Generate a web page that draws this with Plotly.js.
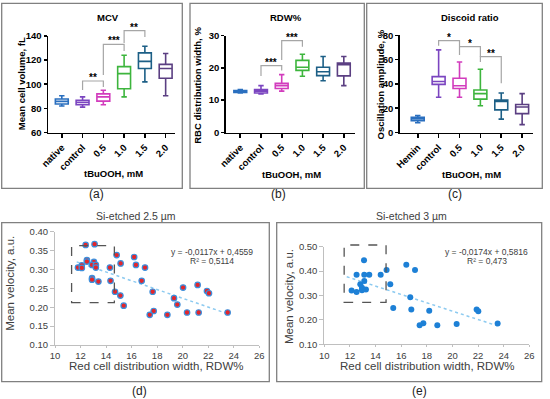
<!DOCTYPE html>
<html><head><meta charset="utf-8">
<script src="https://cdn.plot.ly/plotly-3.0.1.min.js"></script>
<style>html,body{margin:0;padding:0;background:#fff;}#chart{width:550px;height:399px;}</style>
</head><body><div id="chart"></div>
<script>
// ---------------- DATA ----------------
const catsA = ['native','control','0.5','1.0','1.5','2.0'];
const catsB = ['native','control','0.5','1.0','1.5','2.0'];
const catsC = ['Hemin','control','0.5','1.0','1.5','2.0'];
const boxColors = ['#2a6fbf','#7b45c0','#d23cbd','#3db53d','#1c5f86','#5b3f82'];

// (a) MCV, fL
const mcvLow  = [82, 81, 83, 89.5, 102, 90.5];
const mcvQ1   = [83.6, 83, 86, 96.3, 113, 105];
const mcvMed  = [85.8, 85, 89.5, 108.8, 119, 113];
const mcvQ3   = [87.8, 86.7, 92, 114.6, 126, 116.5];
const mcvHigh = [90.5, 89.5, 95, 124, 131.5, 125.5];
// (b) RDW %
const rdwLow  = [12.2, 11.9, 12.8, 17.4, 16, 14.5];
const rdwQ1   = [12.4, 12.2, 13.6, 19.2, 17.6, 17.5];
const rdwMed  = [12.75, 12.8, 14.5, 20.2, 18.8, 21];
const rdwQ3   = [13.0, 13.3, 15.2, 22.3, 20.2, 21.5];
const rdwHigh = [13.3, 14.5, 17.9, 24.2, 23.5, 23.5];
// (c) Discoid ratio, %
const discLow  = [8, 29, 29, 22, 11, 6.5];
const discQ1   = [9.8, 39.6, 36.2, 27.5, 18.6, 15.5];
const discMed  = [11.3, 42, 38.5, 32, 25.5, 21];
const discQ3   = [12.6, 46, 44.6, 35, 26.8, 23];
const discHigh = [14, 68, 58, 52, 32.5, 32];

// significance brackets: from/to category index, top level, left/right leg ends, label
const brA_from = [1, 2, 3], brA_to = [2, 3, 4];
const brA_top = [102.7, 133.1, 144.4], brA_left = [95.2, 107.7, 134.2], brA_right = [97.7, 127.6, 139.2];
const brA_lab = ['**', '***', '**'];
const brB_from = [1, 2], brB_to = [2, 3];
const brB_top = [20.7, 28.4], brB_left = [17.5, 22.4], brB_right = [19.2, 26.5];
const brB_lab = ['***', '***'];
const brC_from = [1, 2, 3], brC_to = [2, 3, 4];
const brC_top = [75.6, 70.6, 62.4], brC_left = [71.4, 70.6, 58], brC_right = [63.8, 62.4, 40.5];
const brC_lab = ['*', '*', '**'];

// (d) Si-etched 2.5 um
const dX = [11.8, 12.1, 12.1, 12.4, 12.5, 12.5, 13.1, 13.05, 12.9, 13.2, 13.2, 12.9, 12.9, 13.4, 14.3, 14.35, 14.7, 14.83, 15.14, 15.12, 15.38, 16.2, 16.34, 16.79, 17.05, 17.65, 17.73, 17.42, 18.8, 19.32, 19.58, 20.03, 20.34, 21.17, 21.25, 21.9, 22.06, 23.52];
const dY = [0.305, 0.311, 0.304, 0.365, 0.325, 0.321, 0.367, 0.32, 0.312, 0.312, 0.305, 0.277, 0.273, 0.268, 0.305, 0.27, 0.241, 0.338, 0.316, 0.231, 0.204, 0.333, 0.312, 0.27, 0.305, 0.241, 0.19, 0.18, 0.18, 0.224, 0.207, 0.252, 0.186, 0.259, 0.186, 0.243, 0.237, 0.186];
const dTrendX = [11.7, 23.5], dTrendY = [0.32, 0.183];
const dBoxX = [11.3, 14.65], dBoxY = [0.212, 0.363];
// (e) Si-etched 3 um
const eX = [12.13, 12.52, 12.52, 12.81, 12.94, 12.94, 13.1, 13.12, 13.12, 13.25, 13.51, 14.4, 14.86, 15.15, 15.38, 16.4, 16.71, 16.79, 17.08, 17.44, 17.73, 18.19, 18.82, 20.33, 21.89, 22.02, 23.53];
const eY = [0.321, 0.314, 0.385, 0.346, 0.332, 0.322, 0.444, 0.385, 0.359, 0.325, 0.385, 0.385, 0.404, 0.346, 0.249, 0.426, 0.293, 0.243, 0.404, 0.178, 0.186, 0.238, 0.178, 0.183, 0.243, 0.235, 0.185];
const eTrendX = [11.75, 23.5], eTrendY = [0.377, 0.176];
const eBoxX = [11.55, 14.82], eBoxY = [0.272, 0.507];

// ---------------- LAYOUT GEOMETRY ----------------
const W = 550, H = 399;
const px = x => x / W, py = y => 1 - y / H;
const P = {
  a: {xd:[48.3,175], yd:[36,132.5], xr:[-0.65,5.45], yr:[60,140], dt:20},
  b: {xd:[226,355], yd:[35.5,132.5], xr:[-0.69,5.54], yr:[0,30], dt:10},
  c: {xd:[400,533], yd:[35.3,132.5], xr:[-0.85,5.52], yr:[0,80], dt:20},
  d: {xd:[55,259.3], yd:[231.7,345], xr:[10,26], yr:[0.10,0.40], dt:0.05},
  e: {xd:[324.3,529.3], yd:[246.7,344.3], xr:[10,26], yr:[0.10,0.50], dt:0.1}
};
function X(p, v){ return px(p.xd[0]) + (v - p.xr[0])/(p.xr[1]-p.xr[0])*(px(p.xd[1])-px(p.xd[0])); }
function Y(p, v){ return py(p.yd[1]) + (v - p.yr[0])/(p.yr[1]-p.yr[0])*(py(p.yd[0])-py(p.yd[1])); }

const FONT = 'Liberation Sans, Arial, sans-serif';
const traces = [];
const shapes = [];
const annotations = [];

function addBoxes(n, cats, lo, q1, med, q3, hi){
  cats.forEach((c, i) => {
    traces.push({type:'box', x:[i], lowerfence:[lo[i]], q1:[q1[i]], median:[med[i]], q3:[q3[i]], upperfence:[hi[i]],
      width:0.62, whiskerwidth:0.42, boxpoints:false, fillcolor:'#ffffff',
      line:{color:boxColors[i], width:1.6}, xaxis:'x'+(n===1?'':n), yaxis:'y'+(n===1?'':n),
      hoverinfo:'skip', showlegend:false});
  });
}
addBoxes(1, catsA, mcvLow, mcvQ1, mcvMed, mcvQ3, mcvHigh);
addBoxes(2, catsB, rdwLow, rdwQ1, rdwMed, rdwQ3, rdwHigh);
addBoxes(3, catsC, discLow, discQ1, discMed, discQ3, discHigh);

function addBrackets(p, fr, to, top, left, right, lab){
  fr.forEach((f, i) => {
    const t = to[i];
    shapes.push({type:'path', xref:'paper', yref:'paper',
      path:`M ${X(p,f)},${Y(p,left[i])} L ${X(p,f)},${Y(p,top[i])} L ${X(p,t)},${Y(p,top[i])} L ${X(p,t)},${Y(p,right[i])}`,
      line:{color:'#a6a6a6', width:1.2}});
    annotations.push({xref:'paper', yref:'paper', x:X(p,(f+t)/2), y:Y(p,top[i]), yanchor:'bottom', xanchor:'center',
      text:lab[i], showarrow:false, yshift:-4, font:{family:FONT, size:10, weight:'bold', color:'#000'}});
  });
}
addBrackets(P.a, brA_from, brA_to, brA_top, brA_left, brA_right, brA_lab);
addBrackets(P.b, brB_from, brB_to, brB_top, brB_left, brB_right, brB_lab);
addBrackets(P.c, brC_from, brC_to, brC_top, brC_left, brC_right, brC_lab);

// scatter panels
traces.push({type:'scatter', mode:'lines', x:dTrendX, y:dTrendY, xaxis:'x4', yaxis:'y4',
  line:{color:'#8ccaf0', width:1.5, dash:'dot'}, hoverinfo:'skip', showlegend:false});
traces.push({type:'scatter', mode:'markers', x:dX, y:dY, xaxis:'x4', yaxis:'y4',
  marker:{color:'#e3262b', size:5.5, line:{color:'#3d8fdc', width:1.2}}, hoverinfo:'skip', showlegend:false});
traces.push({type:'scatter', mode:'lines', x:eTrendX, y:eTrendY, xaxis:'x5', yaxis:'y5',
  line:{color:'#8ccaf0', width:1.5, dash:'dot'}, hoverinfo:'skip', showlegend:false});
traces.push({type:'scatter', mode:'markers', x:eX, y:eY, xaxis:'x5', yaxis:'y5',
  marker:{color:'#1d80d6', size:6}, hoverinfo:'skip', showlegend:false});

// dashed boxes
[[P.d, dBoxX, dBoxY],[P.e, eBoxX, eBoxY]].forEach(([p, bx, by]) => {
  shapes.push({type:'rect', xref:'paper', yref:'paper', x0:X(p,bx[0]), x1:X(p,bx[1]), y0:Y(p,by[0]), y1:Y(p,by[1]),
    line:{color:'#555555', width:1.3, dash:'dash'}});
});

// panel frames
[[1.7,3.3,182.3,188.3],[190,3.3,364.3,188.3],[366.7,3.3,542.3,188.3],[1.7,222.7,269.3,381.7],[276.7,222.7,541.7,381.7]].forEach(r => {
  shapes.push({type:'rect', xref:'paper', yref:'paper', x0:px(r[0]), x1:px(r[2]), y0:py(r[3]), y1:py(r[1]),
    line:{color:'#808080', width:1.3}});
});

// text annotations (titles, axis titles, panel labels)
function txt(x, y, s, size, opts){
  annotations.push(Object.assign({xref:'paper', yref:'paper', x:px(x), y:py(y), text:s, showarrow:false,
    xanchor:'center', yanchor:'middle', font:{family:FONT, size:size, color:'#000'}}, opts||{}));
}
const bold = (size) => ({font:{family:FONT, size:size, color:'#000', weight:'bold'}});
txt(108.3, 17.3, 'MCV', 9.5, bold(9.5));
txt(286, 17.3, 'RDW%', 9.5, bold(9.5));
txt(470, 17.3, 'Discoid ratio', 9.5, bold(9.5));
txt(21.2, 84, 'Mean cell volume, fL', 9.5, Object.assign(bold(9.5), {textangle:-90}));
txt(197.8, 85, 'RBC distribution width, %', 9.5, Object.assign(bold(9.5), {textangle:-90}));
txt(379.5, 84, 'Oscillation amplitude, %', 9.5, Object.assign(bold(9.5), {textangle:-90}));
txt(113.3, 173.5, 'tBuOOH, mM', 9.5, bold(9.5));
txt(291.7, 174, 'tBuOOH, mM', 9.5, bold(9.5));
txt(471.7, 174, 'tBuOOH, mM', 9.5, bold(9.5));
txt(96.7, 193.5, '(a)', 12, {font:{family:FONT, size:12, color:'#222'}});
txt(278.3, 193.5, '(b)', 12, {font:{family:FONT, size:12, color:'#222'}});
txt(455, 193.5, '(c)', 12, {font:{family:FONT, size:12, color:'#222'}});
txt(139, 391, '(d)', 12, {font:{family:FONT, size:12, color:'#222'}});
txt(419, 391, '(e)', 12, {font:{family:FONT, size:12, color:'#222'}});
const grey = (size) => ({font:{family:FONT, size:size, color:'#404040'}});
txt(135.7, 216, 'Si-etched 2.5 µm', 10.5, grey(10.5));
txt(411.7, 216, 'Si-etched 3 µm', 10.5, grey(10.5));
txt(155.7, 365.5, 'Red cell distribution width, RDW%', 11.5, grey(11.5));
txt(426.7, 366, 'Red cell distribution width, RDW%', 11.5, grey(11.5));
txt(10.5, 283.3, 'Mean velocity, a.u.', 11.5, Object.assign(grey(11.5), {textangle:-90}));
txt(288.3, 296.7, 'Mean velocity, a.u.', 11.5, Object.assign(grey(11.5), {textangle:-90}));
// regression equations
txt(212, 251.7, 'y = -0,0117x + 0,4559', 8.5, grey(8.5));
txt(212, 261, 'R² = 0,5114', 8.5, grey(8.5));
txt(486.7, 251.7, 'y = -0,0174x + 0,5816', 8.5, grey(8.5));
txt(486.7, 261, 'R² = 0,473', 8.5, grey(8.5));

// ---------------- AXES ----------------
const layout = {width:W, height:H, margin:{l:0,r:0,t:0,b:0}, autosize:false,
  paper_bgcolor:'#fff', plot_bgcolor:'rgba(0,0,0,0)', showlegend:false, boxmode:'overlay',
  font:{family:FONT}, shapes:shapes, annotations:annotations};

function topAxes(n, p, cats){
  const sx = n===1?'':n;
  layout['xaxis'+sx] = {domain:[px(p.xd[0]), px(p.xd[1])], range:p.xr, anchor:'y'+sx,
    tickmode:'array', tickvals:cats.map((c,i)=>i), ticktext:cats, tickangle:-45,
    showline:true, linecolor:'#000', linewidth:1.8, ticks:'outside', ticklen:4, tickwidth:1.6, tickcolor:'#000',
    showgrid:false, zeroline:false, tickfont:{family:FONT, size:9.5, weight:'bold', color:'#000'}, fixedrange:true};
  layout['yaxis'+sx] = {domain:[py(p.yd[1]), py(p.yd[0])], range:p.yr, anchor:'x'+sx,
    tick0:p.yr[0], dtick:p.dt, showline:true, linecolor:'#000', linewidth:1.8, ticks:'outside', ticklen:3, tickwidth:1.6, tickcolor:'#000',
    showgrid:false, zeroline:false, tickfont:{family:FONT, size:9.5, weight:'bold', color:'#000'}, fixedrange:true};
}
topAxes(1, P.a, catsA);
topAxes(2, P.b, catsB);
topAxes(3, P.c, catsC);

function botAxes(n, p){
  layout['xaxis'+n] = {domain:[px(p.xd[0]), px(p.xd[1])], range:p.xr, anchor:'y'+n, tick0:10, dtick:2,
    showline:true, linecolor:'#bfbfbf', linewidth:1, ticks:'outside', ticklen:2, tickwidth:1, tickcolor:'#bfbfbf',
    showgrid:false, zeroline:false, tickfont:{family:FONT, size:9.5, color:'#404040'}, fixedrange:true};
  layout['yaxis'+n] = {domain:[py(p.yd[1]), py(p.yd[0])], range:p.yr, anchor:'x'+n, tick0:p.yr[0], dtick:p.dt, tickformat:'.2f',
    showline:true, linecolor:'#bfbfbf', linewidth:1, ticks:'outside', ticklen:4, tickwidth:1, tickcolor:'#bfbfbf',
    showgrid:false, zeroline:false, tickfont:{family:FONT, size:9.5, color:'#404040'}, fixedrange:true};
}
botAxes(4, P.d);
botAxes(5, P.e);

Plotly.newPlot('chart', traces, layout, {staticPlot:true, displayModeBar:false});
</script>
</body></html>
